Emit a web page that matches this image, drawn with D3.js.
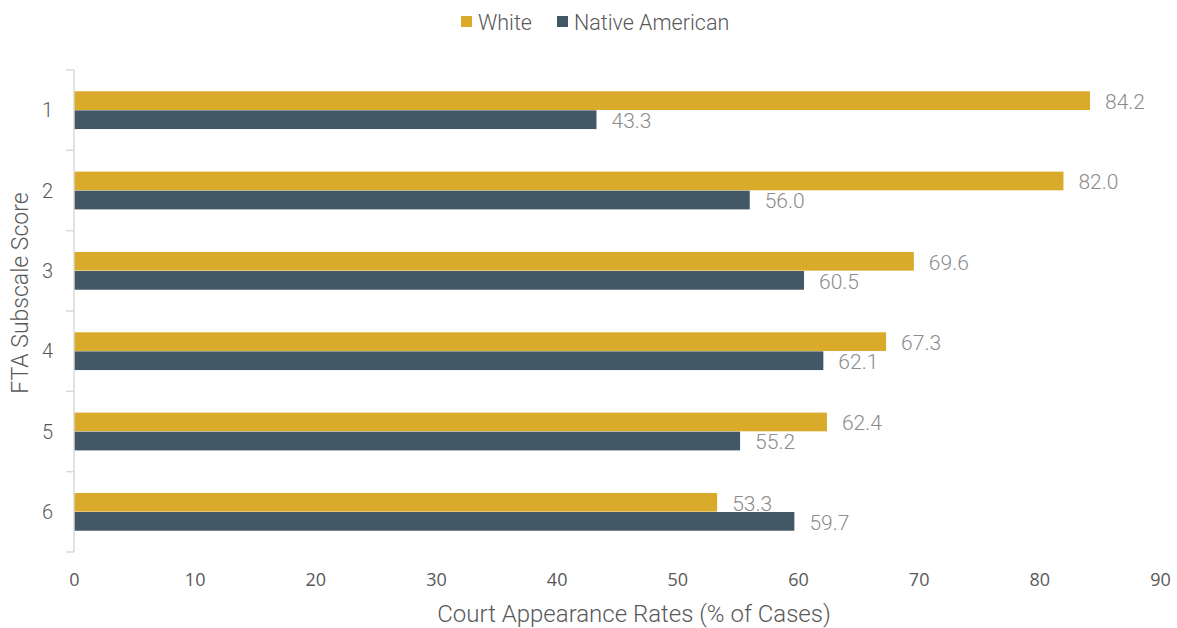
<!DOCTYPE html>
<html>
<head>
<meta charset="utf-8">
<script src="https://cdn.jsdelivr.net/npm/d3@7"></script>
<style>
  body { margin: 0; background: #fff; }
  svg { display: block; }
</style>
</head>
<body>
<svg id="chart" width="1177" height="628"></svg>
<script>
// FTA subscale scores and court appearance rates by group
const scores = ["1", "2", "3", "4", "5", "6"];
const white = [84.2, 82.0, 69.6, 67.3, 62.4, 53.3];
const nativeAmerican = [43.3, 56.0, 60.5, 62.1, 55.2, 59.7];
const seriesNames = ["White", "Native American"];
const xTicks = [0, 10, 20, 30, 40, 50, 60, 70, 80, 90];

const colors = { "White": "#DAAB2A", "Native American": "#435867" };

const svg = d3.select("#chart");
const margin = { top: 70, right: 16, bottom: 76, left: 74 };
const width = 1177 - margin.left - margin.right;
const height = 628 - margin.top - margin.bottom;

const g = svg.append("g").attr("transform", `translate(${margin.left},${margin.top})`);

const x = d3.scaleLinear().domain([0, 90]).range([0, width - 1]);
const y = d3.scaleBand().domain(scores).range([0, height]).paddingInner(0).paddingOuter(0);
const yInner = d3.scaleBand().domain(seriesNames).range([y.bandwidth() * 0.26, y.bandwidth() * 0.74]).padding(0.02);

const rows = scores.map((s, i) => ({
  score: s,
  values: [
    { name: "White", value: white[i] },
    { name: "Native American", value: nativeAmerican[i] }
  ]
}));

// Bars
const groups = g.selectAll(".grp").data(rows).join("g")
  .attr("transform", d => `translate(0,${y(d.score)})`);

groups.selectAll("rect").data(d => d.values).join("rect")
  .attr("x", x(0))
  .attr("y", d => yInner(d.name))
  .attr("width", d => x(d.value) - x(0))
  .attr("height", yInner.bandwidth())
  .attr("fill", d => colors[d.name]);

// Value labels
groups.selectAll("text.val").data(d => d.values).join("text")
  .attr("class", "val")
  .attr("x", d => x(d.value) + 15)
  .attr("y", d => yInner(d.name) + yInner.bandwidth() / 2 + 1)
  .attr("dy", "0.35em")
  .attr("font-family", "Roboto, sans-serif")
  .attr("font-weight", 300)
  .attr("font-size", 21)
  .attr("fill", "#8c8c8c")
  .text(d => d.value.toFixed(1));

// Y axis: line with tick marks on band boundaries
const axisColor = "#d9d9d9";
g.append("line")
  .attr("x1", 0).attr("x2", 0)
  .attr("y1", 0).attr("y2", height)
  .attr("stroke", axisColor).attr("stroke-width", 1.5);

const bounds = d3.range(scores.length + 1).map(i => i === scores.length ? height : y(scores[i]));
g.selectAll(".ytick").data(bounds).join("line")
  .attr("x1", -8).attr("x2", 0)
  .attr("y1", d => d).attr("y2", d => d)
  .attr("stroke", axisColor).attr("stroke-width", 1.5);

g.selectAll(".ylab").data(scores).join("text")
  .attr("x", -21)
  .attr("y", d => y(d) + y.bandwidth() / 2)
  .attr("dy", "0.35em")
  .attr("text-anchor", "end")
  .attr("font-family", "Roboto, sans-serif")
  .attr("font-weight", 300)
  .attr("font-size", 20)
  .attr("fill", "#595959")
  .text(d => d);

// X axis tick labels
const xAxis = g.append("g")
  .attr("transform", `translate(0,${height})`)
  .call(d3.axisBottom(x).tickValues(xTicks).tickSize(0).tickPadding(21));
xAxis.select(".domain").remove();
xAxis.selectAll("text")
  .attr("font-family", "'Open Sans', sans-serif")
  .attr("font-size", 18)
  .attr("fill", "#595959");

// Axis titles
svg.append("text")
  .attr("x", 634)
  .attr("y", 622)
  .attr("text-anchor", "middle")
  .attr("font-family", "Roboto, sans-serif")
  .attr("font-weight", 300)
  .attr("font-size", 24)
  .attr("fill", "#595959")
  .text("Court Appearance Rates (% of Cases)");

svg.append("text")
  .attr("transform", "translate(28,293) rotate(-90)")
  .attr("text-anchor", "middle")
  .attr("font-family", "Roboto, sans-serif")
  .attr("font-weight", 300)
  .attr("font-size", 23)
  .attr("fill", "#595959")
  .text("FTA Subscale Score");

// Legend
const legend = svg.append("g").attr("transform", "translate(461,16)");
const legendX = [0, 96];
seriesNames.forEach((name, i) => {
  const item = legend.append("g").attr("transform", `translate(${legendX[i]},0)`);
  item.append("rect").attr("width", 11).attr("height", 11).attr("fill", colors[name]);
  item.append("text")
    .attr("x", 17).attr("y", 6)
    .attr("dy", "0.35em")
    .attr("font-family", "Roboto, sans-serif")
    .attr("font-weight", 300)
    .attr("font-size", 21.5)
    .attr("fill", "#595959")
    .text(name);
});
</script>
</body>
</html>
